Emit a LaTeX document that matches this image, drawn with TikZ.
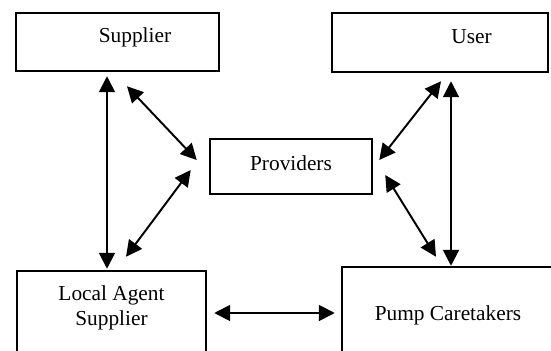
\documentclass[tikz,border=0pt]{standalone}
\usepackage{fontspec}
\setmainfont{Liberation Serif}
\usetikzlibrary{arrows.meta,calc}
\def\px{0.5625pt}

\begin{document}
\begin{tikzpicture}[x=\px, y=-\px,
    box/.style={draw=black, line width=1.4pt, inner sep=0pt},
    txt/.style={font=\fontsize{12}{14}\selectfont, align=center, inner sep=0pt},
    link/.style={line width=1.1pt, {Triangle[length=9pt,width=9pt]}-{Triangle[length=9pt,width=9pt]}}]
    \useasboundingbox (0,0) rectangle (551,350);
    \clip (0,0) rectangle (551,350);
    % The five boxes, the lower two run off the bottom of the page.
        \node[box, minimum width=203*\px, minimum height=58*\px] (sup) at (117.5,42) {};
        \node[box, minimum width=216*\px, minimum height=59*\px] (usr) at (440,42.5) {};
        \node[box, minimum width=162*\px, minimum height=55*\px] (prov) at (291,166.5) {};
        \node[box, minimum width=189*\px, minimum height=100*\px] (loc) at (111.5,321) {};
        \node[box, minimum width=260*\px, minimum height=100*\px] (pump) at (472,317) {};
    % Below nodes are the labels.
        \node[txt] (suptxt) at ($(sup)+(17.5,-5)$) {Supplier};
        \node[txt] (usrtxt) at ($(usr)+(31.5,-5.5)$) {User};
        \node[txt] (provtxt) at ($(prov)+(0,-3.5)$) {Providers};
        \node[txt] (loctxt) at ($(loc)+(0,-13.5)$) {Local Agent\\Supplier};
        \node[txt] (pumptxt) at ($(pump)+(-24,-2)$) {Pump Caretakers};
    % The two long upright arrows.
        \draw[link] ($(sup.south)+(-10.5,4)$) -- ($(loc.north)+(-4.5,-1)$);
        \draw[link] ($(usr.south)+(11,8)$) -- ($(pump.north)+(-21,0)$);
    % The slanted arrows round the providers box.
        \draw[link] ($(sup.south)+(9.5,14)$) -- ($(prov.west)+(-12,-6.5)$);
        \draw[link] ($(prov.west)+(-18,3.5)$) -- ($(loc.north)+(14.5,-13)$);
        \draw[link] ($(prov.east)+(6,-6.5)$) -- ($(usr.south)+(1,8)$);
        \draw[link] ($(prov.east)+(12,8.5)$) -- ($(pump.north)+(-36,-9)$);
    % This draws the bottom arrow.
        \draw[link] ($(loc.east)+(7,-8)$) -- ($(pump.west)+(-6,-4)$);
\end{tikzpicture}
\end{document}
